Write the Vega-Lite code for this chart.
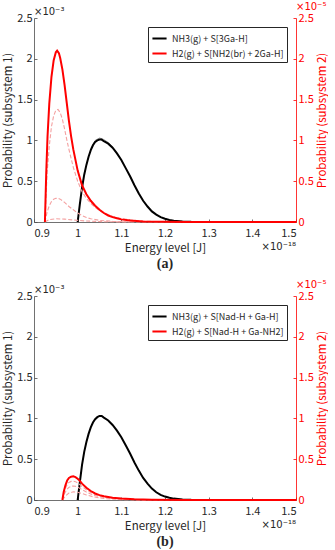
{
  "$schema": "https://vega.github.io/schema/vega-lite/v6.json",
  "padding": {"left": 2, "top": 2, "right": 0, "bottom": 0},
  "background": "white",
  "config": {
    "view": {"stroke": null},
    "font": "Noto Sans CJK JP",
    "axis": {"grid": false, "labelFont": "Noto Sans CJK JP", "titleFont": "Noto Sans CJK JP", "labelFontSize": 11, "titleFontSize": 11.5, "titleFontWeight": "normal", "labelColor": "#262626", "titleColor": "#262626", "domainColor": "#4d4d4d", "tickColor": "#4d4d4d", "tickSize": -3, "labelPadding": 5, "domainWidth": 0.8, "tickWidth": 0.8},
    "axisX": {"labelPadding": 8, "titlePadding": 4},
    "legend": {"labelFont": "Noto Sans CJK JP", "labelFontSize": 9, "labelColor": "#262626", "strokeColor": "#262626", "fillColor": "white", "padding": 3, "rowPadding": 1, "symbolType": "stroke", "symbolStrokeWidth": 2, "symbolSize": 200, "orient": "top-right", "offset": 9, "labelLimit": 300}
  },
  "resolve": {"scale": {"color": "independent"}, "legend": {"color": "independent"}},
  "datasets": {
    "a_black": [
      {"x": 1.000, "y": 0}, {"x": 1.005, "y": 0.22}, {"x": 1.010, "y": 0.42}, {"x": 1.015, "y": 0.58}, {"x": 1.020, "y": 0.70}, {"x": 1.025, "y": 0.80}, {"x": 1.030, "y": 0.88}, {"x": 1.035, "y": 0.94}, {"x": 1.040, "y": 0.98}, {"x": 1.045, "y": 1.00}, {"x": 1.050, "y": 1.01}, {"x": 1.055, "y": 1.01}, {"x": 1.060, "y": 0.99}, {"x": 1.070, "y": 0.96}, {"x": 1.080, "y": 0.91}, {"x": 1.090, "y": 0.84}, {"x": 1.100, "y": 0.76}, {"x": 1.110, "y": 0.66}, {"x": 1.120, "y": 0.56}, {"x": 1.130, "y": 0.45}, {"x": 1.140, "y": 0.35}, {"x": 1.150, "y": 0.26}, {"x": 1.160, "y": 0.19}, {"x": 1.170, "y": 0.13}, {"x": 1.180, "y": 0.09}, {"x": 1.190, "y": 0.06}, {"x": 1.200, "y": 0.04}, {"x": 1.210, "y": 0.025}, {"x": 1.220, "y": 0.016}, {"x": 1.240, "y": 0.006}, {"x": 1.260, "y": 0.002}, {"x": 1.300, "y": 0}, {"x": 1.500, "y": 0}
    ],
    "a_gray": [
      {"x": 1.030, "y": 0.90}, {"x": 1.040, "y": 1.00}, {"x": 1.050, "y": 1.03}, {"x": 1.060, "y": 1.01}, {"x": 1.070, "y": 0.975}, {"x": 1.080, "y": 0.92}
    ],
    "a_red": [
      {"x": 0.925, "y": 0}, {"x": 0.928, "y": 0.6}, {"x": 0.931, "y": 1.05}, {"x": 0.935, "y": 1.45}, {"x": 0.940, "y": 1.78}, {"x": 0.945, "y": 1.98}, {"x": 0.950, "y": 2.08}, {"x": 0.953, "y": 2.1}, {"x": 0.957, "y": 2.07}, {"x": 0.960, "y": 2.01}, {"x": 0.965, "y": 1.87}, {"x": 0.970, "y": 1.68}, {"x": 0.975, "y": 1.46}, {"x": 0.980, "y": 1.24}, {"x": 0.985, "y": 1.05}, {"x": 0.990, "y": 0.89}, {"x": 1.000, "y": 0.63}, {"x": 1.010, "y": 0.45}, {"x": 1.020, "y": 0.34}, {"x": 1.030, "y": 0.26}, {"x": 1.040, "y": 0.2}, {"x": 1.050, "y": 0.15}, {"x": 1.060, "y": 0.11}, {"x": 1.070, "y": 0.08}, {"x": 1.080, "y": 0.06}, {"x": 1.090, "y": 0.045}, {"x": 1.100, "y": 0.032}, {"x": 1.120, "y": 0.017}, {"x": 1.150, "y": 0.007}, {"x": 1.200, "y": 0.002}, {"x": 1.250, "y": 0}, {"x": 1.500, "y": 0}
    ],
    "a_dash": [
      {"s": "d1", "x": 0.925, "y": 0}, {"s": "d1", "x": 0.930, "y": 0.6}, {"s": "d1", "x": 0.935, "y": 0.93}, {"s": "d1", "x": 0.940, "y": 1.17}, {"s": "d1", "x": 0.945, "y": 1.3}, {"s": "d1", "x": 0.950, "y": 1.37}, {"s": "d1", "x": 0.955, "y": 1.38}, {"s": "d1", "x": 0.960, "y": 1.34}, {"s": "d1", "x": 0.965, "y": 1.26}, {"s": "d1", "x": 0.970, "y": 1.14}, {"s": "d1", "x": 0.975, "y": 1.01}, {"s": "d1", "x": 0.980, "y": 0.89}, {"s": "d1", "x": 0.985, "y": 0.78}, {"s": "d1", "x": 0.990, "y": 0.67}, {"s": "d1", "x": 1.000, "y": 0.5}, {"s": "d1", "x": 1.010, "y": 0.37}, {"s": "d1", "x": 1.020, "y": 0.29}, {"s": "d1", "x": 1.030, "y": 0.23}, {"s": "d1", "x": 1.040, "y": 0.18}, {"s": "d1", "x": 1.050, "y": 0.14}, {"s": "d1", "x": 1.060, "y": 0.11}, {"s": "d1", "x": 1.080, "y": 0.07}, {"s": "d1", "x": 1.100, "y": 0.04}, {"s": "d1", "x": 1.150, "y": 0.01}, {"s": "d1", "x": 1.200, "y": 0.002}, {"s": "d1", "x": 1.250, "y": 0},
      {"s": "d2", "x": 0.925, "y": 0}, {"s": "d2", "x": 0.930, "y": 0.12}, {"s": "d2", "x": 0.935, "y": 0.2}, {"s": "d2", "x": 0.940, "y": 0.25}, {"s": "d2", "x": 0.945, "y": 0.28}, {"s": "d2", "x": 0.950, "y": 0.29}, {"s": "d2", "x": 0.955, "y": 0.29}, {"s": "d2", "x": 0.960, "y": 0.28}, {"s": "d2", "x": 0.970, "y": 0.24}, {"s": "d2", "x": 0.980, "y": 0.19}, {"s": "d2", "x": 0.990, "y": 0.15}, {"s": "d2", "x": 1.000, "y": 0.11}, {"s": "d2", "x": 1.010, "y": 0.08}, {"s": "d2", "x": 1.020, "y": 0.055}, {"s": "d2", "x": 1.030, "y": 0.04}, {"s": "d2", "x": 1.050, "y": 0.02}, {"s": "d2", "x": 1.080, "y": 0.008}, {"s": "d2", "x": 1.120, "y": 0.002}, {"s": "d2", "x": 1.200, "y": 0},
      {"s": "d3", "x": 0.925, "y": 0}, {"s": "d3", "x": 0.935, "y": 0.03}, {"s": "d3", "x": 0.950, "y": 0.04}, {"s": "d3", "x": 0.970, "y": 0.035}, {"s": "d3", "x": 0.990, "y": 0.025}, {"s": "d3", "x": 1.020, "y": 0.012}, {"s": "d3", "x": 1.060, "y": 0.004}, {"s": "d3", "x": 1.120, "y": 0}
    ],
    "b_black": [
      {"x": 1.000, "y": 0}, {"x": 1.005, "y": 0.22}, {"x": 1.010, "y": 0.43}, {"x": 1.015, "y": 0.59}, {"x": 1.020, "y": 0.71}, {"x": 1.025, "y": 0.81}, {"x": 1.030, "y": 0.89}, {"x": 1.035, "y": 0.95}, {"x": 1.040, "y": 0.99}, {"x": 1.045, "y": 1.015}, {"x": 1.050, "y": 1.03}, {"x": 1.055, "y": 1.03}, {"x": 1.060, "y": 1.01}, {"x": 1.070, "y": 0.975}, {"x": 1.080, "y": 0.92}, {"x": 1.090, "y": 0.85}, {"x": 1.100, "y": 0.77}, {"x": 1.110, "y": 0.67}, {"x": 1.120, "y": 0.57}, {"x": 1.130, "y": 0.46}, {"x": 1.140, "y": 0.36}, {"x": 1.150, "y": 0.27}, {"x": 1.160, "y": 0.2}, {"x": 1.170, "y": 0.14}, {"x": 1.180, "y": 0.095}, {"x": 1.190, "y": 0.063}, {"x": 1.200, "y": 0.042}, {"x": 1.210, "y": 0.027}, {"x": 1.220, "y": 0.017}, {"x": 1.240, "y": 0.006}, {"x": 1.260, "y": 0.002}, {"x": 1.300, "y": 0}, {"x": 1.500, "y": 0}
    ],
    "b_red": [
      {"x": 0.965, "y": 0}, {"x": 0.968, "y": 0.1}, {"x": 0.972, "y": 0.18}, {"x": 0.976, "y": 0.24}, {"x": 0.980, "y": 0.27}, {"x": 0.985, "y": 0.285}, {"x": 0.990, "y": 0.29}, {"x": 0.995, "y": 0.28}, {"x": 1.000, "y": 0.26}, {"x": 1.005, "y": 0.235}, {"x": 1.010, "y": 0.2}, {"x": 1.020, "y": 0.15}, {"x": 1.030, "y": 0.11}, {"x": 1.040, "y": 0.08}, {"x": 1.050, "y": 0.06}, {"x": 1.060, "y": 0.045}, {"x": 1.080, "y": 0.028}, {"x": 1.100, "y": 0.018}, {"x": 1.130, "y": 0.009}, {"x": 1.170, "y": 0.003}, {"x": 1.250, "y": 0}, {"x": 1.500, "y": 0}
    ],
    "b_dash": [
      {"s": "d1", "x": 0.965, "y": 0}, {"s": "d1", "x": 0.968, "y": 0.08}, {"s": "d1", "x": 0.972, "y": 0.145}, {"s": "d1", "x": 0.976, "y": 0.19}, {"s": "d1", "x": 0.980, "y": 0.215}, {"s": "d1", "x": 0.985, "y": 0.228}, {"s": "d1", "x": 0.990, "y": 0.232}, {"s": "d1", "x": 0.995, "y": 0.225}, {"s": "d1", "x": 1.000, "y": 0.21}, {"s": "d1", "x": 1.010, "y": 0.165}, {"s": "d1", "x": 1.020, "y": 0.125}, {"s": "d1", "x": 1.030, "y": 0.092}, {"s": "d1", "x": 1.040, "y": 0.068}, {"s": "d1", "x": 1.060, "y": 0.038}, {"s": "d1", "x": 1.080, "y": 0.022}, {"s": "d1", "x": 1.100, "y": 0.013}, {"s": "d1", "x": 1.150, "y": 0.004}, {"s": "d1", "x": 1.220, "y": 0},
      {"s": "d2", "x": 0.965, "y": 0}, {"s": "d2", "x": 0.970, "y": 0.08}, {"s": "d2", "x": 0.975, "y": 0.13}, {"s": "d2", "x": 0.980, "y": 0.155}, {"s": "d2", "x": 0.985, "y": 0.168}, {"s": "d2", "x": 0.990, "y": 0.172}, {"s": "d2", "x": 0.995, "y": 0.168}, {"s": "d2", "x": 1.000, "y": 0.158}, {"s": "d2", "x": 1.010, "y": 0.128}, {"s": "d2", "x": 1.020, "y": 0.098}, {"s": "d2", "x": 1.030, "y": 0.073}, {"s": "d2", "x": 1.040, "y": 0.054}, {"s": "d2", "x": 1.060, "y": 0.03}, {"s": "d2", "x": 1.080, "y": 0.016}, {"s": "d2", "x": 1.100, "y": 0.009}, {"s": "d2", "x": 1.150, "y": 0.002}, {"s": "d2", "x": 1.200, "y": 0},
      {"s": "d3", "x": 0.965, "y": 0}, {"s": "d3", "x": 0.972, "y": 0.05}, {"s": "d3", "x": 0.980, "y": 0.085}, {"s": "d3", "x": 0.990, "y": 0.1}, {"s": "d3", "x": 1.000, "y": 0.095}, {"s": "d3", "x": 1.010, "y": 0.08}, {"s": "d3", "x": 1.020, "y": 0.062}, {"s": "d3", "x": 1.035, "y": 0.04}, {"s": "d3", "x": 1.060, "y": 0.018}, {"s": "d3", "x": 1.100, "y": 0.005}, {"s": "d3", "x": 1.160, "y": 0}
    ]
  },
  "vconcat": [
    {
      "width": 262,
      "height": 204,
      "title": {"text": "(a)", "orient": "bottom", "font": "Liberation Serif", "fontSize": 14, "fontWeight": "bold", "color": "#262626", "offset": 3},
      "layer": [
        {
          "layer": [
            {
              "data": {"name": "a_gray"},
              "mark": {"type": "line", "color": "#a0a0a0", "strokeWidth": 1},
              "encoding": {"x": {"field": "x", "type": "quantitative"}, "y": {"field": "y", "type": "quantitative"}}
            },
            {
              "data": {"name": "a_black"},
              "transform": [{"calculate": "'NH3(g) + S[3Ga-H]'", "as": "series"}],
              "mark": {"type": "line", "strokeWidth": 2},
              "encoding": {
                "x": {"field": "x", "type": "quantitative", "scale": {"domain": [0.9, 1.5], "nice": false}, "axis": {"title": "Energy level [J]", "values": [0.9, 1.0, 1.1, 1.2, 1.3, 1.4, 1.5], "format": "~g"}},
                "y": {"field": "y", "type": "quantitative", "scale": {"domain": [0, 2.5], "nice": false}, "axis": {"title": "Probability (subsystem 1)", "orient": "left", "values": [0, 0.5, 1, 1.5, 2, 2.5], "format": "~g", "titlePadding": 3}},
                "color": {"field": "series", "type": "nominal", "scale": {"domain": ["NH3(g) + S[3Ga-H]", "H2(g) + S[NH2(br) + 2Ga-H]"], "range": ["#000000", "#ff0000"]}, "legend": {"title": null}}
              }
            },
            {
              "data": {"values": [{}]},
              "mark": {"type": "text", "text": "×10⁻³", "align": "left", "baseline": "bottom", "dy": -1, "font": "DejaVu Sans", "fontSize": 10, "color": "#262626"},
              "encoding": {"x": {"datum": 0.9}, "y": {"datum": 2.5}}
            },
            {
              "data": {"values": [{}]},
              "mark": {"type": "text", "text": "×10⁻¹⁸", "align": "right", "baseline": "middle", "dy": 25, "font": "DejaVu Sans", "fontSize": 10, "color": "#262626"},
              "encoding": {"x": {"datum": 1.5}, "y": {"datum": 0}}
            }
          ]
        },
        {
          "layer": [
            {
              "data": {"name": "a_dash"},
              "mark": {"type": "line", "color": "#f4a0a0", "strokeWidth": 1.1, "strokeDash": [4, 2]},
              "encoding": {"x": {"field": "x", "type": "quantitative"}, "y": {"field": "y", "type": "quantitative"}, "detail": {"field": "s"}}
            },
            {
              "data": {"name": "a_red"},
              "transform": [{"calculate": "'H2(g) + S[NH2(br) + 2Ga-H]'", "as": "series"}],
              "mark": {"type": "line", "strokeWidth": 2},
              "encoding": {
                "x": {"field": "x", "type": "quantitative"},
                "y": {"field": "y", "type": "quantitative", "scale": {"domain": [0, 2.5], "nice": false}, "axis": {"title": "Probability (subsystem 2)", "orient": "right", "values": [0, 0.5, 1, 1.5, 2, 2.5], "format": "~g", "titleAngle": 270, "titleBaseline": "top", "titlePadding": 3, "labelColor": "#ff0000", "titleColor": "#ff0000", "domainColor": "#ff0000", "tickColor": "#ff0000"}},
                "color": {"field": "series", "type": "nominal"}
              }
            },
            {
              "data": {"values": [{}]},
              "mark": {"type": "text", "text": "×10⁻⁵", "align": "left", "baseline": "bottom", "dy": -6, "font": "DejaVu Sans", "fontSize": 10, "color": "#ff0000"},
              "encoding": {"x": {"datum": 1.5}, "y": {"datum": 2.5}}
            }
          ]
        }
      ],
      "resolve": {"scale": {"y": "independent"}}
    },
    {
      "width": 262,
      "height": 204,
      "title": {"text": "(b)", "orient": "bottom", "font": "Liberation Serif", "fontSize": 14, "fontWeight": "bold", "color": "#262626", "offset": 3},
      "layer": [
        {
          "layer": [
            {
              "data": {"name": "b_black"},
              "transform": [{"calculate": "'NH3(g) + S[Nad-H + Ga-H]'", "as": "series"}],
              "mark": {"type": "line", "strokeWidth": 2},
              "encoding": {
                "x": {"field": "x", "type": "quantitative", "scale": {"domain": [0.9, 1.5], "nice": false}, "axis": {"title": "Energy level [J]", "values": [0.9, 1.0, 1.1, 1.2, 1.3, 1.4, 1.5], "format": "~g"}},
                "y": {"field": "y", "type": "quantitative", "scale": {"domain": [0, 2.5], "nice": false}, "axis": {"title": "Probability (subsystem 1)", "orient": "left", "values": [0, 0.5, 1, 1.5, 2, 2.5], "format": "~g", "titlePadding": 3}},
                "color": {"field": "series", "type": "nominal", "scale": {"domain": ["NH3(g) + S[Nad-H + Ga-H]", "H2(g) + S[Nad-H + Ga-NH2]"], "range": ["#000000", "#ff0000"]}, "legend": {"title": null}}
              }
            },
            {
              "data": {"values": [{}]},
              "mark": {"type": "text", "text": "×10⁻³", "align": "left", "baseline": "bottom", "dy": -1, "font": "DejaVu Sans", "fontSize": 10, "color": "#262626"},
              "encoding": {"x": {"datum": 0.9}, "y": {"datum": 2.5}}
            },
            {
              "data": {"values": [{}]},
              "mark": {"type": "text", "text": "×10⁻¹⁸", "align": "right", "baseline": "middle", "dy": 25, "font": "DejaVu Sans", "fontSize": 10, "color": "#262626"},
              "encoding": {"x": {"datum": 1.5}, "y": {"datum": 0}}
            }
          ]
        },
        {
          "layer": [
            {
              "data": {"name": "b_dash"},
              "mark": {"type": "line", "color": "#f4a0a0", "strokeWidth": 1.1, "strokeDash": [4, 2]},
              "encoding": {"x": {"field": "x", "type": "quantitative"}, "y": {"field": "y", "type": "quantitative"}, "detail": {"field": "s"}}
            },
            {
              "data": {"name": "b_red"},
              "transform": [{"calculate": "'H2(g) + S[Nad-H + Ga-NH2]'", "as": "series"}],
              "mark": {"type": "line", "strokeWidth": 2},
              "encoding": {
                "x": {"field": "x", "type": "quantitative"},
                "y": {"field": "y", "type": "quantitative", "scale": {"domain": [0, 2.5], "nice": false}, "axis": {"title": "Probability (subsystem 2)", "orient": "right", "values": [0, 0.5, 1, 1.5, 2, 2.5], "format": "~g", "titleAngle": 270, "titleBaseline": "top", "titlePadding": 3, "labelColor": "#ff0000", "titleColor": "#ff0000", "domainColor": "#ff0000", "tickColor": "#ff0000"}},
                "color": {"field": "series", "type": "nominal"}
              }
            },
            {
              "data": {"values": [{}]},
              "mark": {"type": "text", "text": "×10⁻⁵", "align": "left", "baseline": "bottom", "dy": -6, "font": "DejaVu Sans", "fontSize": 10, "color": "#ff0000"},
              "encoding": {"x": {"datum": 1.5}, "y": {"datum": 2.5}}
            }
          ]
        }
      ],
      "resolve": {"scale": {"y": "independent"}}
    }
  ],
  "spacing": 9
}
